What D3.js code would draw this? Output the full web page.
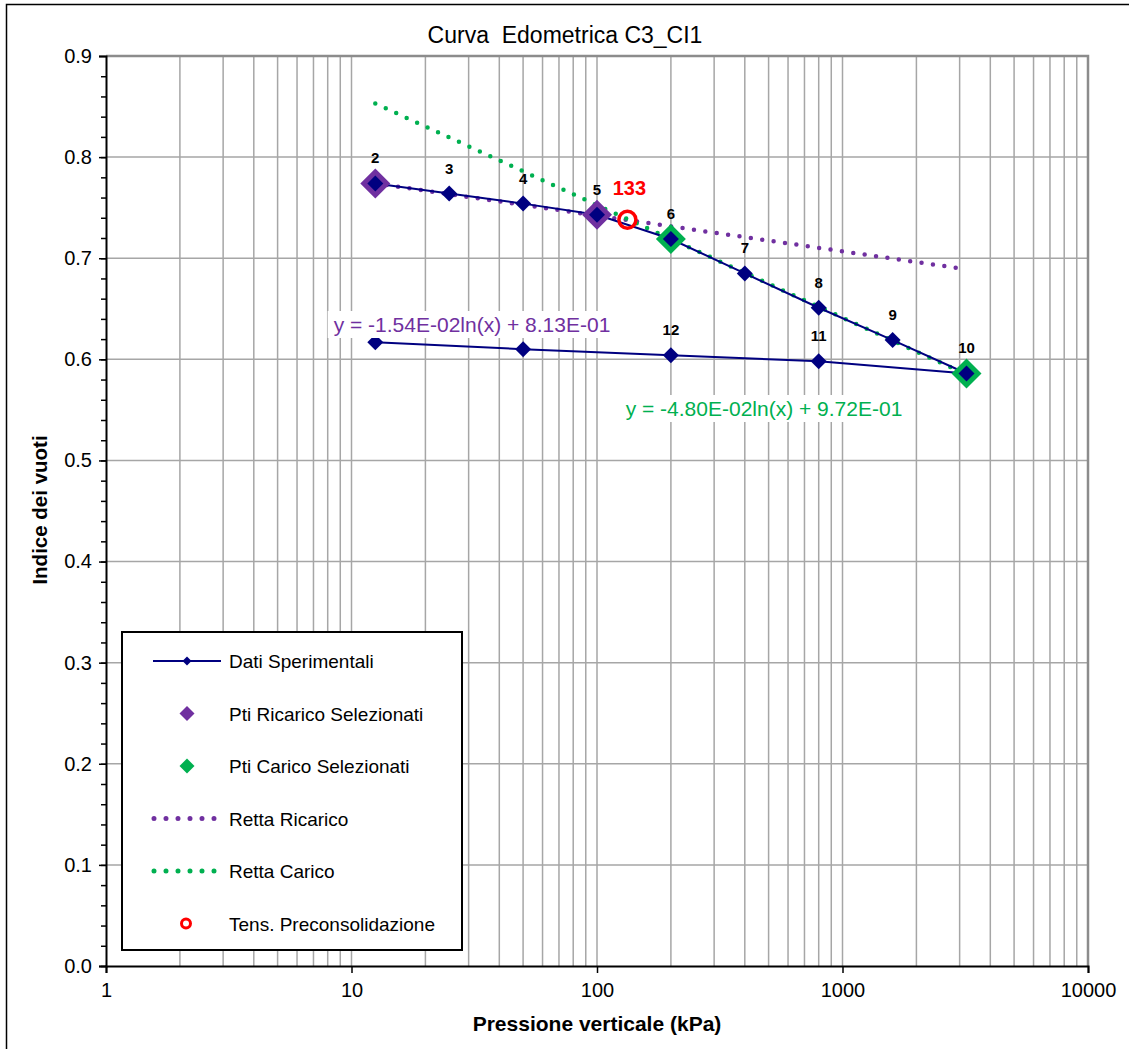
<!DOCTYPE html>
<html>
<head>
<meta charset="utf-8">
<script src="https://cdn.jsdelivr.net/npm/d3@7"></script>
<style>
  body { margin: 0; background: #fff; }
  svg { font-family: "Liberation Sans", Arial, sans-serif; }
  text { white-space: pre; }
</style>
</head>
<body>
<svg id="chart" width="1129" height="1049"></svg>
<script>
// experimental data (load / unload steps)
var pressure = [12.5, 25, 50, 100, 200, 400, 800, 1600, 3200, 800, 200, 50, 12.5];
var voidIndex = [0.774, 0.764, 0.754, 0.743, 0.719, 0.685, 0.651, 0.619, 0.586, 0.598, 0.604, 0.610, 0.617];
var stepLabels = ["2", "3", "4", "5", "6", "7", "8", "9", "10", "11", "12", "", ""];

// selected points
var ricaricoP = [12.5, 100];
var ricaricoE = [0.774, 0.743];
var caricoP = [200, 3200];
var caricoE = [0.719, 0.586];

// trend lines (end points)
var rettaRicaricoP = [12.5, 3200];
var rettaRicaricoE = [0.774, 0.689];
var rettaCaricoP = [12.5, 3200];
var rettaCaricoE = [0.853, 0.585];

// preconsolidation
var preconsP = [133];
var preconsE = [0.738];

var xTicks = [1, 10, 100, 1000, 10000];
var yTicks = [0, 0.1, 0.2, 0.3, 0.4, 0.5, 0.6, 0.7, 0.8, 0.9];

var legendNames = ["Dati Sperimentali", "Pti Ricarico Selezionati", "Pti Carico Selezionati",
                   "Retta Ricarico", "Retta Carico", "Tens. Preconsolidazione"];

var navy = "#000080", purple = "#7030a0", green = "#00b050", red = "#ff0000";

var margin = {left: 106, top: 56, right: 1088, bottom: 966};

var x = d3.scaleLog().domain([1, 10000]).range([margin.left, margin.right]);
var y = d3.scaleLinear().domain([0, 0.9]).range([margin.bottom, margin.top]);

var svg = d3.select("#chart");

function diamond(r) {
  return "M0," + (-r) + "L" + r + ",0L0," + r + "L" + (-r) + ",0Z";
}
function zip(a, b) {
  return a.map(function(d, i) { return {p: d, e: b[i]}; });
}

// outer frame
svg.append("rect")
  .attr("x", 6.5).attr("y", 4.5)
  .attr("width", 1140).attr("height", 1060)
  .attr("fill", "none").attr("stroke", "#000").attr("stroke-width", 1.5);

// title
svg.append("text")
  .attr("x", 565).attr("y", 43)
  .attr("text-anchor", "middle")
  .attr("font-size", 23)
  .text("Curva  Edometrica C3_CI1");

// grid
var minor = [];
for (var dec = 1; dec < 10000; dec *= 10) {
  for (var k = 2; k <= 9; k++) minor.push(dec * k);
}
var grid = svg.append("g").attr("stroke", "#a6a6a6").attr("stroke-width", 1.5);
grid.selectAll(".vx")
  .data(minor.concat([10, 100, 1000]))
  .enter().append("line")
  .attr("x1", function(d) { return x(d); }).attr("x2", function(d) { return x(d); })
  .attr("y1", margin.top).attr("y2", margin.bottom);
grid.selectAll(".hy")
  .data(yTicks.slice(1, 9))
  .enter().append("line")
  .attr("x1", margin.left).attr("x2", margin.right)
  .attr("y1", function(d) { return y(d); }).attr("y2", function(d) { return y(d); });

// plot border top/right
svg.append("path")
  .attr("d", "M" + margin.left + "," + margin.top + "H" + margin.right + "V" + margin.bottom)
  .attr("fill", "none").attr("stroke", "#8c8c8c").attr("stroke-width", 2.5);

// axes
var xAxis = svg.append("g")
  .attr("transform", "translate(0," + margin.bottom + ")")
  .call(d3.axisBottom(x).tickValues(xTicks).tickFormat(d3.format("d")).tickSize(7).tickPadding(10));
var yAxis = svg.append("g")
  .attr("transform", "translate(" + margin.left + ",0)")
  .call(d3.axisLeft(y).tickValues(yTicks).tickFormat(d3.format(".1f")).tickSize(7).tickPadding(7));
svg.append("g")
  .attr("transform", "translate(" + margin.left + ",0)")
  .call(d3.axisLeft(y).tickValues(d3.range(0, 0.9, 0.02)).tickFormat("").tickSize(5))
  .select(".domain").remove();
[xAxis, yAxis].forEach(function(a) {
  a.selectAll("text").attr("font-size", 20).attr("fill", "#000")
    .style("font-family", "'Liberation Sans', Arial, sans-serif");
  a.select(".domain").attr("stroke-width", 2);
});
svg.selectAll(".tick line").attr("stroke-width", 1.5);

// axis titles
svg.append("text")
  .attr("x", 597).attr("y", 1031)
  .attr("text-anchor", "middle")
  .attr("font-size", 21).attr("font-weight", "bold")
  .text("Pressione verticale (kPa)");
svg.append("text")
  .attr("transform", "translate(47,510) rotate(-90)")
  .attr("text-anchor", "middle")
  .attr("font-size", 20.5).attr("font-weight", "bold")
  .text("Indice dei vuoti");

var line = d3.line()
  .x(function(d) { return x(d.p); })
  .y(function(d) { return y(d.e); });

// trend lines
svg.append("path")
  .datum(zip(rettaRicaricoP, rettaRicaricoE))
  .attr("d", line)
  .attr("fill", "none").attr("stroke", purple)
  .attr("stroke-width", 4.5).attr("stroke-linecap", "round")
  .attr("stroke-dasharray", "0 11.5");

svg.append("path")
  .datum(zip(rettaCaricoP, rettaCaricoE))
  .attr("d", line)
  .attr("fill", "none").attr("stroke", green)
  .attr("stroke-width", 4.5).attr("stroke-linecap", "round")
  .attr("stroke-dasharray", "0 11.5");

// experimental curve
var dati = zip(pressure, voidIndex);
svg.append("path")
  .datum(dati)
  .attr("d", line)
  .attr("fill", "none").attr("stroke", navy).attr("stroke-width", 2);

// selected points
svg.selectAll(".ric")
  .data(zip(ricaricoP, ricaricoE))
  .enter().append("path")
  .attr("d", diamond(15))
  .attr("transform", function(d) { return "translate(" + x(d.p) + "," + y(d.e) + ")"; })
  .attr("fill", purple);
svg.selectAll(".car")
  .data(zip(caricoP, caricoE))
  .enter().append("path")
  .attr("d", diamond(15))
  .attr("transform", function(d) { return "translate(" + x(d.p) + "," + y(d.e) + ")"; })
  .attr("fill", green);

svg.selectAll(".dato")
  .data(dati)
  .enter().append("path")
  .attr("d", diamond(8))
  .attr("transform", function(d) { return "translate(" + x(d.p) + "," + y(d.e) + ")"; })
  .attr("fill", navy);

// step labels
svg.selectAll(".lab")
  .data(dati)
  .enter().append("text")
  .attr("x", function(d) { return x(d.p); })
  .attr("y", function(d) { return y(d.e) - 20; })
  .attr("text-anchor", "middle")
  .attr("font-size", 15).attr("font-weight", "bold")
  .text(function(d, i) { return stepLabels[i]; });

// preconsolidation
var pc = zip(preconsP, preconsE)[0];
svg.append("circle")
  .attr("cx", x(pc.p)).attr("cy", y(pc.e)).attr("r", 8.5)
  .attr("fill", "none").attr("stroke", red).attr("stroke-width", 3.5);
svg.append("text")
  .attr("x", x(pc.p) + 2).attr("y", y(pc.e) - 25)
  .attr("text-anchor", "middle")
  .attr("font-size", 20).attr("font-weight", "bold").attr("fill", red)
  .text(String(preconsP[0]));

// equation labels
function eqLabel(cx, cy, txt, col) {
  var g = svg.append("g");
  var t = g.append("text")
    .attr("x", cx).attr("y", cy + 7)
    .attr("text-anchor", "middle")
    .attr("font-size", 21).attr("fill", col)
    .text(txt);
  var bb = t.node().getBBox();
  g.insert("rect", "text")
    .attr("x", bb.x - 6).attr("y", bb.y - 2)
    .attr("width", bb.width + 12).attr("height", bb.height + 4)
    .attr("fill", "#fff");
}
eqLabel(472, 325, "y = -1.54E-02ln(x) + 8.13E-01", purple);
eqLabel(764, 409, "y = -4.80E-02ln(x) + 9.72E-01", green);

// legend
var lg = svg.append("g");
lg.append("rect")
  .attr("x", 122).attr("y", 632).attr("width", 340).attr("height", 318)
  .attr("fill", "#fff").attr("stroke", "#000").attr("stroke-width", 2);
var rowY = d3.range(6).map(function(i) { return 661 + i * 52.5; });
lg.selectAll(".lt")
  .data(legendNames)
  .enter().append("text")
  .attr("x", 229).attr("y", function(d, i) { return rowY[i] + 7; })
  .attr("font-size", 19)
  .text(function(d) { return d; });
lg.append("line").attr("x1", 153).attr("x2", 221).attr("y1", rowY[0]).attr("y2", rowY[0])
  .attr("stroke", navy).attr("stroke-width", 2);
lg.append("path").attr("d", diamond(4.5))
  .attr("transform", "translate(187," + rowY[0] + ")").attr("fill", navy);
lg.append("path").attr("d", diamond(7.5))
  .attr("transform", "translate(187," + rowY[1] + ")").attr("fill", purple);
lg.append("path").attr("d", diamond(7.5))
  .attr("transform", "translate(187," + rowY[2] + ")").attr("fill", green);
lg.append("line").attr("x1", 154).attr("x2", 218).attr("y1", rowY[3]).attr("y2", rowY[3])
  .attr("stroke", purple).attr("stroke-width", 5).attr("stroke-linecap", "round")
  .attr("stroke-dasharray", "0 12");
lg.append("line").attr("x1", 154).attr("x2", 218).attr("y1", rowY[4]).attr("y2", rowY[4])
  .attr("stroke", green).attr("stroke-width", 5).attr("stroke-linecap", "round")
  .attr("stroke-dasharray", "0 12");
lg.append("circle").attr("cx", 186).attr("cy", rowY[5]).attr("r", 4.5)
  .attr("fill", "none").attr("stroke", red).attr("stroke-width", 3);
</script>
</body>
</html>
